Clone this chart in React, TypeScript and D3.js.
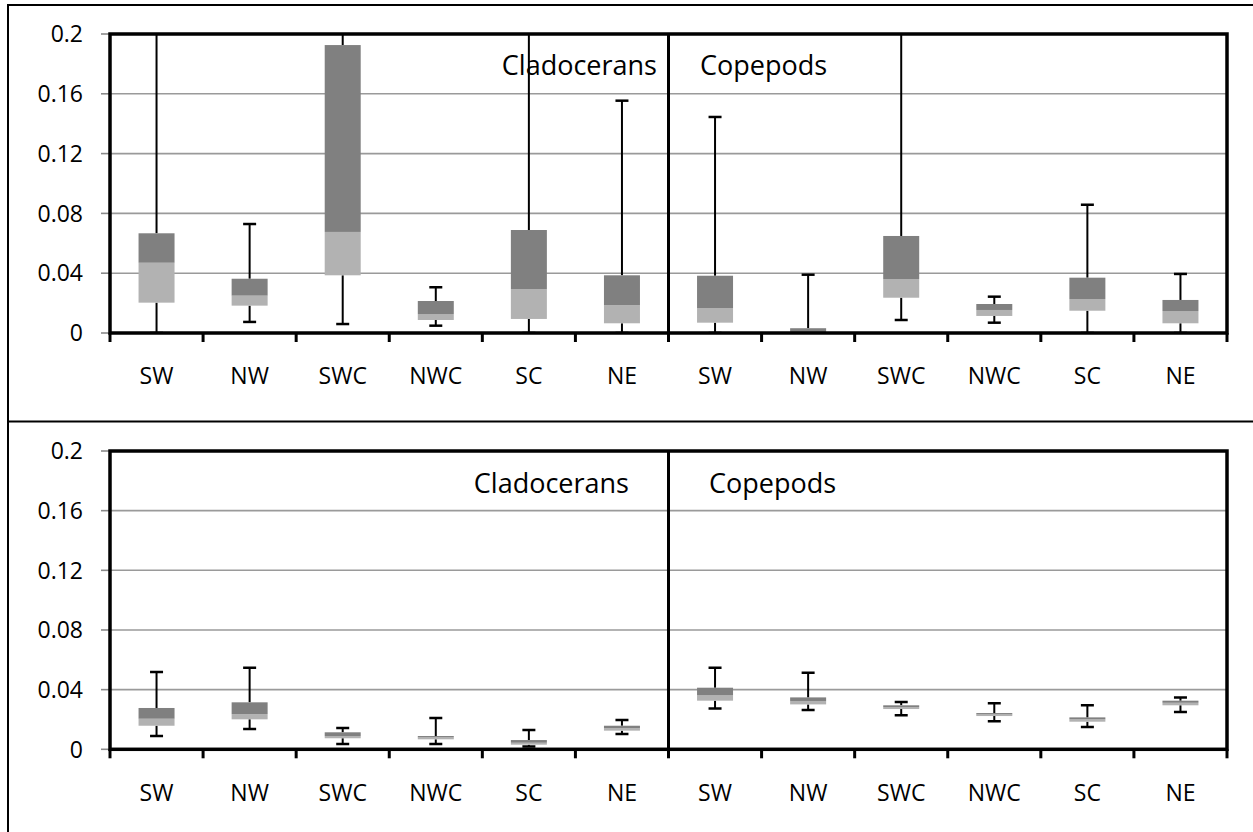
import React from "react";
import * as d3 from "d3";

const regions = ["SW", "NW", "SWC", "NWC", "SC", "NE"];
const groups = ["Cladocerans", "Copepods"];
const yTicks = [0, 0.04, 0.08, 0.12, 0.16, 0.2];
const yTickLabels = ["0", "0.04", "0.08", "0.12", "0.16", "0.2"];

// Top panel (12 boxes: Cladocerans SW..NE, Copepods SW..NE)
const topLow = [0, 0.0074, 0.006, 0.0049, 0, 0, 0, 0, 0.0087, 0.0069, 0, 0];
const topQ1 = [0.0203, 0.0183, 0.0386, 0.0087, 0.0094, 0.0065, 0.0069, 0, 0.0236, 0.0114, 0.0149, 0.0065];
const topMed = [0.047, 0.025, 0.0676, 0.0127, 0.0292, 0.0187, 0.0167, 0.0006, 0.0361, 0.0154, 0.0227, 0.0147];
const topQ3 = [0.0667, 0.0363, 0.1926, 0.0214, 0.0689, 0.0386, 0.0383, 0.0032, 0.0649, 0.0194, 0.037, 0.0221];
const topHigh = [0.26, 0.0729, 0.23, 0.0306, 0.24, 0.1554, 0.1445, 0.039, 0.22, 0.0243, 0.0858, 0.0395];

// Bottom panel
const botLow = [0.0089, 0.0136, 0.0036, 0.0036, 0.0018, 0.0102, 0.0274, 0.0263, 0.0228, 0.0188, 0.0149, 0.025];
const botQ1 = [0.0158, 0.0201, 0.0074, 0.0067, 0.0031, 0.0125, 0.0326, 0.0301, 0.027, 0.0223, 0.0185, 0.0295];
const botMed = [0.0205, 0.0236, 0.0089, 0.008, 0.0044, 0.0141, 0.0364, 0.0324, 0.0283, 0.0234, 0.0201, 0.0312];
const botQ3 = [0.0277, 0.0315, 0.0114, 0.0089, 0.0062, 0.0158, 0.0413, 0.0348, 0.0295, 0.0243, 0.0214, 0.0326];
const botHigh = [0.0518, 0.0547, 0.0143, 0.021, 0.0129, 0.0196, 0.0547, 0.0513, 0.0317, 0.0308, 0.0295, 0.0348];

const categories = groups.flatMap((g) => regions.map((r) => `${g}-${r}`));

const FONT = "'Open Sans', sans-serif";
const DARK = "#808080";
const LIGHT = "#b2b2b2";

type PanelProps = {
  id: string;
  top: number;
  bottom: number;
  low: number[];
  q1: number[];
  med: number[];
  q3: number[];
  high: number[];
  cladEnd: number;
  copeStart: number;
  titleY: number;
  labelY: number;
};

const LEFT = 110;
const RIGHT = 1227;

function Panel(p: PanelProps) {
  const x = d3.scaleBand<string>().domain(categories).range([LEFT, RIGHT]).padding(0);
  const y = d3.scaleLinear().domain([0, 0.2]).range([p.bottom, p.top]);
  const bw = 36;
  const cap = 13;
  const boundaries = d3.range(categories.length + 1).map((i) => LEFT + i * x.bandwidth());
  const divX = x(categories[6]) as number;
  return (
    <g>
      <defs>
        <clipPath id={`clip-${p.id}`}>
          <rect x={LEFT} y={p.top} width={RIGHT - LEFT} height={p.bottom - p.top} />
        </clipPath>
      </defs>
      {/* gridlines */}
      {yTicks.slice(1, 5).map((t) => (
        <line key={t} x1={LEFT} x2={RIGHT} y1={y(t)} y2={y(t)} stroke="#9a9a9a" strokeWidth={1.6} />
      ))}
      {/* y ticks */}
      {yTicks.map((t, i) => (
        <g key={t}>
          <line x1={LEFT - 9} x2={LEFT} y1={y(t)} y2={y(t)} stroke="#8a8a8a" strokeWidth={1.6} />
          <text x={83} y={y(t)} dy="0.36em" textAnchor="end" fontFamily={FONT} fontSize={23} fill="#000">
            {yTickLabels[i]}
          </text>
        </g>
      ))}
      <g clipPath={`url(#clip-${p.id})`}>
        {categories.map((c, i) => {
          const cx = (x(c) as number) + x.bandwidth() / 2;
          return (
            <g key={c}>
              <line x1={cx} x2={cx} y1={y(p.q3[i])} y2={y(p.high[i])} stroke="#000" strokeWidth={2} />
              <line x1={cx - cap / 2} x2={cx + cap / 2} y1={y(p.high[i])} y2={y(p.high[i])} stroke="#000" strokeWidth={2.5} />
              <line x1={cx} x2={cx} y1={y(p.q1[i])} y2={y(p.low[i])} stroke="#000" strokeWidth={2} />
              <line x1={cx - cap / 2} x2={cx + cap / 2} y1={y(p.low[i])} y2={y(p.low[i])} stroke="#000" strokeWidth={2.5} />
              <rect x={cx - bw / 2} width={bw} y={y(p.med[i])} height={y(p.q1[i]) - y(p.med[i])} fill={LIGHT} />
              <rect x={cx - bw / 2} width={bw} y={y(p.q3[i])} height={y(p.med[i]) - y(p.q3[i])} fill={DARK} />
            </g>
          );
        })}
      </g>
      {/* divider */}
      <line x1={divX} x2={divX} y1={p.top} y2={p.bottom} stroke="#000" strokeWidth={3} />
      {/* frame */}
      <rect x={LEFT} y={p.top} width={RIGHT - LEFT} height={p.bottom - p.top} fill="none" stroke="#000" strokeWidth={3.5} />
      {/* x ticks */}
      {boundaries.map((b, i) => (
        <line key={i} x1={b} x2={b} y1={p.bottom} y2={p.bottom + 9} stroke="#000" strokeWidth={3} />
      ))}
      {/* x labels */}
      {categories.map((c, i) => (
        <text
          key={c}
          x={(x(c) as number) + x.bandwidth() / 2}
          y={p.labelY}
          textAnchor="middle"
          fontFamily={FONT}
          fontSize={23}
          fill="#000"
        >
          {regions[i % 6]}
        </text>
      ))}
      <text x={p.cladEnd} y={p.titleY} textAnchor="end" fontFamily={FONT} fontSize={27} fill="#000">
        {groups[0]}
      </text>
      <text x={p.copeStart} y={p.titleY} textAnchor="start" fontFamily={FONT} fontSize={27} fill="#000">
        {groups[1]}
      </text>
    </g>
  );
}

export default function App() {
  return (
    <svg
      width={1253}
      height={832}
      style={{ position: "absolute", left: 0, top: 0, background: "#fff" }}
    >
      <rect x={0} y={0} width={1253} height={832} fill="#fff" />
      {/* outer frames */}
      <line x1={8} x2={1253} y1={5} y2={5} stroke="#000" strokeWidth={2} />
      <line x1={8} x2={1253} y1={421.5} y2={421.5} stroke="#000" strokeWidth={2.2} />
      <line x1={8} x2={8} y1={4} y2={832} stroke="#000" strokeWidth={2} />
      <Panel
        id="top"
        top={34}
        bottom={333}
        low={topLow}
        q1={topQ1}
        med={topMed}
        q3={topQ3}
        high={topHigh}
        cladEnd={657}
        copeStart={700}
        titleY={75}
        labelY={384}
      />
      <Panel
        id="bot"
        top={451}
        bottom={749.3}
        low={botLow}
        q1={botQ1}
        med={botMed}
        q3={botQ3}
        high={botHigh}
        cladEnd={629}
        copeStart={709}
        titleY={493}
        labelY={801}
      />
    </svg>
  );
}
